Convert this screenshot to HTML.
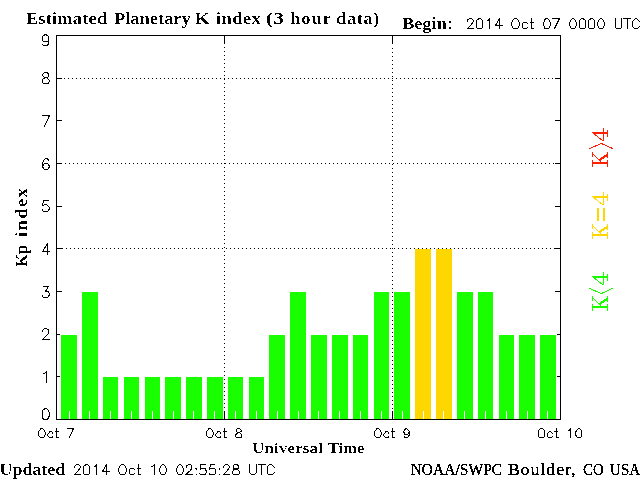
<!DOCTYPE html>
<html><head><meta charset="utf-8"><style>
html,body{margin:0;padding:0;background:#fff;}
body{width:640px;height:480px;overflow:hidden;position:relative;}
svg{position:absolute;left:0;top:0;will-change:transform;}
.serif{font-family:"Liberation Serif",serif;}
</style></head><body>
<svg width="640" height="480" viewBox="0 0 640 480">
<g shape-rendering="crispEdges">
<rect x="61" y="335" width="16" height="84" fill="#1aff00"/>
<rect x="82" y="292" width="16" height="127" fill="#1aff00"/>
<rect x="103" y="377" width="15" height="42" fill="#1aff00"/>
<rect x="124" y="377" width="15" height="42" fill="#1aff00"/>
<rect x="145" y="377" width="15" height="42" fill="#1aff00"/>
<rect x="165" y="377" width="16" height="42" fill="#1aff00"/>
<rect x="186" y="377" width="16" height="42" fill="#1aff00"/>
<rect x="207" y="377" width="16" height="42" fill="#1aff00"/>
<rect x="228" y="377" width="15" height="42" fill="#1aff00"/>
<rect x="249" y="377" width="15" height="42" fill="#1aff00"/>
<rect x="269" y="335" width="16" height="84" fill="#1aff00"/>
<rect x="290" y="292" width="16" height="127" fill="#1aff00"/>
<rect x="311" y="335" width="16" height="84" fill="#1aff00"/>
<rect x="332" y="335" width="16" height="84" fill="#1aff00"/>
<rect x="353" y="335" width="15" height="84" fill="#1aff00"/>
<rect x="374" y="292" width="15" height="127" fill="#1aff00"/>
<rect x="394" y="292" width="16" height="127" fill="#1aff00"/>
<rect x="415" y="249" width="16" height="170" fill="#ffd700"/>
<rect x="436" y="249" width="16" height="170" fill="#ffd700"/>
<rect x="457" y="292" width="16" height="127" fill="#1aff00"/>
<rect x="478" y="292" width="15" height="127" fill="#1aff00"/>
<rect x="499" y="335" width="15" height="84" fill="#1aff00"/>
<rect x="519" y="335" width="16" height="84" fill="#1aff00"/>
<rect x="540" y="335" width="16" height="84" fill="#1aff00"/>
<rect x="69" y="411" width="1" height="8" fill="#fff"/>
<rect x="89" y="411" width="1" height="8" fill="#fff"/>
<rect x="110" y="411" width="1" height="8" fill="#fff"/>
<rect x="131" y="411" width="1" height="8" fill="#fff"/>
<rect x="152" y="411" width="1" height="8" fill="#fff"/>
<rect x="173" y="411" width="1" height="8" fill="#fff"/>
<rect x="193" y="411" width="1" height="8" fill="#fff"/>
<rect x="214" y="411" width="1" height="8" fill="#fff"/>
<rect x="235" y="411" width="1" height="8" fill="#fff"/>
<rect x="256" y="411" width="1" height="8" fill="#fff"/>
<rect x="277" y="411" width="1" height="8" fill="#fff"/>
<rect x="298" y="411" width="1" height="8" fill="#fff"/>
<rect x="318" y="411" width="1" height="8" fill="#fff"/>
<rect x="339" y="411" width="1" height="8" fill="#fff"/>
<rect x="360" y="411" width="1" height="8" fill="#fff"/>
<rect x="381" y="411" width="1" height="8" fill="#fff"/>
<rect x="402" y="411" width="1" height="8" fill="#fff"/>
<rect x="423" y="411" width="1" height="8" fill="#fff"/>
<rect x="443" y="411" width="1" height="8" fill="#fff"/>
<rect x="464" y="411" width="1" height="8" fill="#fff"/>
<rect x="485" y="411" width="1" height="8" fill="#fff"/>
<rect x="506" y="411" width="1" height="8" fill="#fff"/>
<rect x="527" y="411" width="1" height="8" fill="#fff"/>
<rect x="547" y="411" width="1" height="8" fill="#fff"/>
<path d="M64 78h1v1h-1zM68 78h1v1h-1zM72 78h1v1h-1zM76 78h1v1h-1zM80 78h1v1h-1zM84 78h1v1h-1zM88 78h1v1h-1zM92 78h1v1h-1zM96 78h1v1h-1zM100 78h1v1h-1zM104 78h1v1h-1zM108 78h1v1h-1zM112 78h1v1h-1zM116 78h1v1h-1zM120 78h1v1h-1zM124 78h1v1h-1zM128 78h1v1h-1zM132 78h1v1h-1zM136 78h1v1h-1zM140 78h1v1h-1zM144 78h1v1h-1zM148 78h1v1h-1zM152 78h1v1h-1zM156 78h1v1h-1zM160 78h1v1h-1zM164 78h1v1h-1zM168 78h1v1h-1zM172 78h1v1h-1zM176 78h1v1h-1zM180 78h1v1h-1zM184 78h1v1h-1zM188 78h1v1h-1zM192 78h1v1h-1zM196 78h1v1h-1zM200 78h1v1h-1zM204 78h1v1h-1zM208 78h1v1h-1zM212 78h1v1h-1zM216 78h1v1h-1zM220 78h1v1h-1zM224 78h1v1h-1zM228 78h1v1h-1zM232 78h1v1h-1zM236 78h1v1h-1zM240 78h1v1h-1zM244 78h1v1h-1zM248 78h1v1h-1zM252 78h1v1h-1zM256 78h1v1h-1zM260 78h1v1h-1zM264 78h1v1h-1zM268 78h1v1h-1zM272 78h1v1h-1zM276 78h1v1h-1zM280 78h1v1h-1zM284 78h1v1h-1zM288 78h1v1h-1zM292 78h1v1h-1zM296 78h1v1h-1zM300 78h1v1h-1zM304 78h1v1h-1zM308 78h1v1h-1zM312 78h1v1h-1zM316 78h1v1h-1zM320 78h1v1h-1zM324 78h1v1h-1zM328 78h1v1h-1zM332 78h1v1h-1zM336 78h1v1h-1zM340 78h1v1h-1zM344 78h1v1h-1zM348 78h1v1h-1zM352 78h1v1h-1zM356 78h1v1h-1zM360 78h1v1h-1zM364 78h1v1h-1zM368 78h1v1h-1zM372 78h1v1h-1zM376 78h1v1h-1zM380 78h1v1h-1zM384 78h1v1h-1zM388 78h1v1h-1zM392 78h1v1h-1zM396 78h1v1h-1zM400 78h1v1h-1zM404 78h1v1h-1zM408 78h1v1h-1zM412 78h1v1h-1zM416 78h1v1h-1zM420 78h1v1h-1zM424 78h1v1h-1zM428 78h1v1h-1zM432 78h1v1h-1zM436 78h1v1h-1zM440 78h1v1h-1zM444 78h1v1h-1zM448 78h1v1h-1zM452 78h1v1h-1zM456 78h1v1h-1zM460 78h1v1h-1zM464 78h1v1h-1zM468 78h1v1h-1zM472 78h1v1h-1zM476 78h1v1h-1zM480 78h1v1h-1zM484 78h1v1h-1zM488 78h1v1h-1zM492 78h1v1h-1zM496 78h1v1h-1zM500 78h1v1h-1zM504 78h1v1h-1zM508 78h1v1h-1zM512 78h1v1h-1zM516 78h1v1h-1zM520 78h1v1h-1zM524 78h1v1h-1zM528 78h1v1h-1zM532 78h1v1h-1zM536 78h1v1h-1zM540 78h1v1h-1zM544 78h1v1h-1zM548 78h1v1h-1zM552 78h1v1h-1zM65 163h1v1h-1zM69 163h1v1h-1zM73 163h1v1h-1zM77 163h1v1h-1zM81 163h1v1h-1zM85 163h1v1h-1zM89 163h1v1h-1zM93 163h1v1h-1zM97 163h1v1h-1zM101 163h1v1h-1zM105 163h1v1h-1zM109 163h1v1h-1zM113 163h1v1h-1zM117 163h1v1h-1zM121 163h1v1h-1zM125 163h1v1h-1zM129 163h1v1h-1zM133 163h1v1h-1zM137 163h1v1h-1zM141 163h1v1h-1zM145 163h1v1h-1zM149 163h1v1h-1zM153 163h1v1h-1zM157 163h1v1h-1zM161 163h1v1h-1zM165 163h1v1h-1zM169 163h1v1h-1zM173 163h1v1h-1zM177 163h1v1h-1zM181 163h1v1h-1zM185 163h1v1h-1zM189 163h1v1h-1zM193 163h1v1h-1zM197 163h1v1h-1zM201 163h1v1h-1zM205 163h1v1h-1zM209 163h1v1h-1zM213 163h1v1h-1zM217 163h1v1h-1zM221 163h1v1h-1zM225 163h1v1h-1zM229 163h1v1h-1zM233 163h1v1h-1zM237 163h1v1h-1zM241 163h1v1h-1zM245 163h1v1h-1zM249 163h1v1h-1zM253 163h1v1h-1zM257 163h1v1h-1zM261 163h1v1h-1zM265 163h1v1h-1zM269 163h1v1h-1zM273 163h1v1h-1zM277 163h1v1h-1zM281 163h1v1h-1zM285 163h1v1h-1zM289 163h1v1h-1zM293 163h1v1h-1zM297 163h1v1h-1zM301 163h1v1h-1zM305 163h1v1h-1zM309 163h1v1h-1zM313 163h1v1h-1zM317 163h1v1h-1zM321 163h1v1h-1zM325 163h1v1h-1zM329 163h1v1h-1zM333 163h1v1h-1zM337 163h1v1h-1zM341 163h1v1h-1zM345 163h1v1h-1zM349 163h1v1h-1zM353 163h1v1h-1zM357 163h1v1h-1zM361 163h1v1h-1zM365 163h1v1h-1zM369 163h1v1h-1zM373 163h1v1h-1zM377 163h1v1h-1zM381 163h1v1h-1zM385 163h1v1h-1zM389 163h1v1h-1zM393 163h1v1h-1zM397 163h1v1h-1zM401 163h1v1h-1zM405 163h1v1h-1zM409 163h1v1h-1zM413 163h1v1h-1zM417 163h1v1h-1zM421 163h1v1h-1zM425 163h1v1h-1zM429 163h1v1h-1zM433 163h1v1h-1zM437 163h1v1h-1zM441 163h1v1h-1zM445 163h1v1h-1zM449 163h1v1h-1zM453 163h1v1h-1zM457 163h1v1h-1zM461 163h1v1h-1zM465 163h1v1h-1zM469 163h1v1h-1zM473 163h1v1h-1zM477 163h1v1h-1zM481 163h1v1h-1zM485 163h1v1h-1zM489 163h1v1h-1zM493 163h1v1h-1zM497 163h1v1h-1zM501 163h1v1h-1zM505 163h1v1h-1zM509 163h1v1h-1zM513 163h1v1h-1zM517 163h1v1h-1zM521 163h1v1h-1zM525 163h1v1h-1zM529 163h1v1h-1zM533 163h1v1h-1zM537 163h1v1h-1zM541 163h1v1h-1zM545 163h1v1h-1zM549 163h1v1h-1zM553 163h1v1h-1zM62 248h1v1h-1zM66 248h1v1h-1zM70 248h1v1h-1zM74 248h1v1h-1zM78 248h1v1h-1zM82 248h1v1h-1zM86 248h1v1h-1zM90 248h1v1h-1zM94 248h1v1h-1zM98 248h1v1h-1zM102 248h1v1h-1zM106 248h1v1h-1zM110 248h1v1h-1zM114 248h1v1h-1zM118 248h1v1h-1zM122 248h1v1h-1zM126 248h1v1h-1zM130 248h1v1h-1zM134 248h1v1h-1zM138 248h1v1h-1zM142 248h1v1h-1zM146 248h1v1h-1zM150 248h1v1h-1zM154 248h1v1h-1zM158 248h1v1h-1zM162 248h1v1h-1zM166 248h1v1h-1zM170 248h1v1h-1zM174 248h1v1h-1zM178 248h1v1h-1zM182 248h1v1h-1zM186 248h1v1h-1zM190 248h1v1h-1zM194 248h1v1h-1zM198 248h1v1h-1zM202 248h1v1h-1zM206 248h1v1h-1zM210 248h1v1h-1zM214 248h1v1h-1zM218 248h1v1h-1zM222 248h1v1h-1zM226 248h1v1h-1zM230 248h1v1h-1zM234 248h1v1h-1zM238 248h1v1h-1zM242 248h1v1h-1zM246 248h1v1h-1zM250 248h1v1h-1zM254 248h1v1h-1zM258 248h1v1h-1zM262 248h1v1h-1zM266 248h1v1h-1zM270 248h1v1h-1zM274 248h1v1h-1zM278 248h1v1h-1zM282 248h1v1h-1zM286 248h1v1h-1zM290 248h1v1h-1zM294 248h1v1h-1zM298 248h1v1h-1zM302 248h1v1h-1zM306 248h1v1h-1zM310 248h1v1h-1zM314 248h1v1h-1zM318 248h1v1h-1zM322 248h1v1h-1zM326 248h1v1h-1zM330 248h1v1h-1zM334 248h1v1h-1zM338 248h1v1h-1zM342 248h1v1h-1zM346 248h1v1h-1zM350 248h1v1h-1zM354 248h1v1h-1zM358 248h1v1h-1zM362 248h1v1h-1zM366 248h1v1h-1zM370 248h1v1h-1zM374 248h1v1h-1zM378 248h1v1h-1zM382 248h1v1h-1zM386 248h1v1h-1zM390 248h1v1h-1zM394 248h1v1h-1zM398 248h1v1h-1zM402 248h1v1h-1zM406 248h1v1h-1zM410 248h1v1h-1zM414 248h1v1h-1zM418 248h1v1h-1zM422 248h1v1h-1zM426 248h1v1h-1zM430 248h1v1h-1zM434 248h1v1h-1zM438 248h1v1h-1zM442 248h1v1h-1zM446 248h1v1h-1zM450 248h1v1h-1zM454 248h1v1h-1zM458 248h1v1h-1zM462 248h1v1h-1zM466 248h1v1h-1zM470 248h1v1h-1zM474 248h1v1h-1zM478 248h1v1h-1zM482 248h1v1h-1zM486 248h1v1h-1zM490 248h1v1h-1zM494 248h1v1h-1zM498 248h1v1h-1zM502 248h1v1h-1zM506 248h1v1h-1zM510 248h1v1h-1zM514 248h1v1h-1zM518 248h1v1h-1zM522 248h1v1h-1zM526 248h1v1h-1zM530 248h1v1h-1zM534 248h1v1h-1zM538 248h1v1h-1zM542 248h1v1h-1zM546 248h1v1h-1zM550 248h1v1h-1zM554 248h1v1h-1zM224 47h1v1h-1zM224 51h1v1h-1zM224 55h1v1h-1zM224 59h1v1h-1zM224 63h1v1h-1zM224 67h1v1h-1zM224 71h1v1h-1zM224 75h1v1h-1zM224 79h1v1h-1zM224 83h1v1h-1zM224 87h1v1h-1zM224 91h1v1h-1zM224 95h1v1h-1zM224 99h1v1h-1zM224 103h1v1h-1zM224 107h1v1h-1zM224 111h1v1h-1zM224 115h1v1h-1zM224 119h1v1h-1zM224 123h1v1h-1zM224 127h1v1h-1zM224 131h1v1h-1zM224 135h1v1h-1zM224 139h1v1h-1zM224 143h1v1h-1zM224 147h1v1h-1zM224 151h1v1h-1zM224 155h1v1h-1zM224 159h1v1h-1zM224 163h1v1h-1zM224 167h1v1h-1zM224 171h1v1h-1zM224 175h1v1h-1zM224 179h1v1h-1zM224 183h1v1h-1zM224 187h1v1h-1zM224 191h1v1h-1zM224 195h1v1h-1zM224 199h1v1h-1zM224 203h1v1h-1zM224 207h1v1h-1zM224 211h1v1h-1zM224 215h1v1h-1zM224 219h1v1h-1zM224 223h1v1h-1zM224 227h1v1h-1zM224 231h1v1h-1zM224 235h1v1h-1zM224 239h1v1h-1zM224 243h1v1h-1zM224 247h1v1h-1zM224 251h1v1h-1zM224 255h1v1h-1zM224 259h1v1h-1zM224 263h1v1h-1zM224 267h1v1h-1zM224 271h1v1h-1zM224 275h1v1h-1zM224 279h1v1h-1zM224 283h1v1h-1zM224 287h1v1h-1zM224 291h1v1h-1zM224 295h1v1h-1zM224 299h1v1h-1zM224 303h1v1h-1zM224 307h1v1h-1zM224 311h1v1h-1zM224 315h1v1h-1zM224 319h1v1h-1zM224 323h1v1h-1zM224 327h1v1h-1zM224 331h1v1h-1zM224 335h1v1h-1zM224 339h1v1h-1zM224 343h1v1h-1zM224 347h1v1h-1zM224 351h1v1h-1zM224 355h1v1h-1zM224 359h1v1h-1zM224 363h1v1h-1zM224 367h1v1h-1zM224 371h1v1h-1zM224 375h1v1h-1zM224 379h1v1h-1zM224 383h1v1h-1zM224 387h1v1h-1zM224 391h1v1h-1zM224 395h1v1h-1zM224 399h1v1h-1zM224 403h1v1h-1zM224 407h1v1h-1zM392 48h1v1h-1zM392 52h1v1h-1zM392 56h1v1h-1zM392 60h1v1h-1zM392 64h1v1h-1zM392 68h1v1h-1zM392 72h1v1h-1zM392 76h1v1h-1zM392 80h1v1h-1zM392 84h1v1h-1zM392 88h1v1h-1zM392 92h1v1h-1zM392 96h1v1h-1zM392 100h1v1h-1zM392 104h1v1h-1zM392 108h1v1h-1zM392 112h1v1h-1zM392 116h1v1h-1zM392 120h1v1h-1zM392 124h1v1h-1zM392 128h1v1h-1zM392 132h1v1h-1zM392 136h1v1h-1zM392 140h1v1h-1zM392 144h1v1h-1zM392 148h1v1h-1zM392 152h1v1h-1zM392 156h1v1h-1zM392 160h1v1h-1zM392 164h1v1h-1zM392 168h1v1h-1zM392 172h1v1h-1zM392 176h1v1h-1zM392 180h1v1h-1zM392 184h1v1h-1zM392 188h1v1h-1zM392 192h1v1h-1zM392 196h1v1h-1zM392 200h1v1h-1zM392 204h1v1h-1zM392 208h1v1h-1zM392 212h1v1h-1zM392 216h1v1h-1zM392 220h1v1h-1zM392 224h1v1h-1zM392 228h1v1h-1zM392 232h1v1h-1zM392 236h1v1h-1zM392 240h1v1h-1zM392 244h1v1h-1zM392 248h1v1h-1zM392 252h1v1h-1zM392 256h1v1h-1zM392 260h1v1h-1zM392 264h1v1h-1zM392 268h1v1h-1zM392 272h1v1h-1zM392 276h1v1h-1zM392 280h1v1h-1zM392 284h1v1h-1zM392 288h1v1h-1zM392 292h1v1h-1zM392 296h1v1h-1zM392 300h1v1h-1zM392 304h1v1h-1zM392 308h1v1h-1zM392 312h1v1h-1zM392 316h1v1h-1zM392 320h1v1h-1zM392 324h1v1h-1zM392 328h1v1h-1zM392 332h1v1h-1zM392 336h1v1h-1zM392 340h1v1h-1zM392 344h1v1h-1zM392 348h1v1h-1zM392 352h1v1h-1zM392 356h1v1h-1zM392 360h1v1h-1zM392 364h1v1h-1zM392 368h1v1h-1zM392 372h1v1h-1zM392 376h1v1h-1zM392 380h1v1h-1zM392 384h1v1h-1zM392 388h1v1h-1zM392 392h1v1h-1zM392 396h1v1h-1zM392 400h1v1h-1zM392 404h1v1h-1zM392 408h1v1h-1z" fill="#000"/>
<rect x="56" y="35" width="505" height="1" fill="#000"/>
<rect x="56" y="419" width="505" height="1" fill="#000"/>
<rect x="56" y="35" width="1" height="385" fill="#000"/>
<rect x="560" y="35" width="1" height="385" fill="#000"/>
<rect x="57" y="78" width="5" height="1" fill="#000"/>
<rect x="555" y="78" width="5" height="1" fill="#000"/>
<rect x="57" y="120" width="5" height="1" fill="#000"/>
<rect x="555" y="120" width="5" height="1" fill="#000"/>
<rect x="57" y="163" width="5" height="1" fill="#000"/>
<rect x="555" y="163" width="5" height="1" fill="#000"/>
<rect x="57" y="206" width="5" height="1" fill="#000"/>
<rect x="555" y="206" width="5" height="1" fill="#000"/>
<rect x="57" y="248" width="5" height="1" fill="#000"/>
<rect x="555" y="248" width="5" height="1" fill="#000"/>
<rect x="57" y="291" width="5" height="1" fill="#000"/>
<rect x="555" y="291" width="5" height="1" fill="#000"/>
<rect x="57" y="334" width="3" height="1" fill="#000"/>
<rect x="557" y="334" width="3" height="1" fill="#000"/>
<rect x="57" y="376" width="3" height="1" fill="#000"/>
<rect x="557" y="376" width="3" height="1" fill="#000"/>
<rect x="224" y="36" width="1" height="8" fill="#000"/>
<rect x="224" y="411" width="1" height="8" fill="#000"/>
<rect x="392" y="36" width="1" height="8" fill="#000"/>
<rect x="392" y="411" width="1" height="8" fill="#000"/>
</g>
<path d="M467.5 21.5L467.5 20.5L467.5 19.5L468.5 19.5L469.5 18.5L471.5 18.5L472.5 19.5L472.5 19.5L473.5 20.5L473.5 21.5L472.5 22.5L471.5 24.5L467.5 28.5L473.5 28.5M479.5 18.5L477.5 19.5L476.5 20.5L476.5 23.5L476.5 24.5L476.5 27.5L477.5 28.5L479.5 28.5L480.5 28.5L481.5 28.5L482.5 27.5L482.5 24.5L482.5 23.5L482.5 20.5L481.5 19.5L480.5 18.5L479.5 18.5M487.5 20.5L488.5 20.5L489.5 18.5L489.5 28.5M499.5 18.5L495.5 25.5L502.5 25.5M499.5 18.5L499.5 28.5M514.5 18.5L513.5 19.5L512.5 20.5L512.5 21.5L511.5 22.5L511.5 25.5L512.5 26.5L512.5 27.5L513.5 28.5L514.5 28.5L516.5 28.5L517.5 28.5L518.5 27.5L518.5 26.5L519.5 25.5L519.5 22.5L518.5 21.5L518.5 20.5L517.5 19.5L516.5 18.5L514.5 18.5M527.5 23.5L526.5 22.5L525.5 22.5L524.5 22.5L523.5 22.5L522.5 23.5L522.5 25.5L522.5 26.5L522.5 27.5L523.5 28.5L524.5 28.5L525.5 28.5L526.5 28.5L527.5 27.5M531.5 18.5L531.5 27.5L531.5 28.5L532.5 28.5L533.5 28.5M530.5 22.5L533.5 22.5M546.5 18.5L544.5 19.5L544.5 20.5L543.5 23.5L543.5 24.5L544.5 27.5L544.5 28.5L546.5 28.5L547.5 28.5L548.5 28.5L549.5 27.5L550.5 24.5L550.5 23.5L549.5 20.5L548.5 19.5L547.5 18.5L546.5 18.5M559.5 18.5L554.5 28.5M552.5 18.5L559.5 18.5M572.5 18.5L571.5 19.5L570.5 20.5L569.5 23.5L569.5 24.5L570.5 27.5L571.5 28.5L572.5 28.5L573.5 28.5L574.5 28.5L575.5 27.5L576.5 24.5L576.5 23.5L575.5 20.5L574.5 19.5L573.5 18.5L572.5 18.5M581.5 18.5L580.5 19.5L579.5 20.5L579.5 23.5L579.5 24.5L579.5 27.5L580.5 28.5L581.5 28.5L582.5 28.5L584.5 28.5L585.5 27.5L585.5 24.5L585.5 23.5L585.5 20.5L584.5 19.5L582.5 18.5L581.5 18.5M591.5 18.5L589.5 19.5L588.5 20.5L588.5 23.5L588.5 24.5L588.5 27.5L589.5 28.5L591.5 28.5L592.5 28.5L593.5 28.5L594.5 27.5L594.5 24.5L594.5 23.5L594.5 20.5L593.5 19.5L592.5 18.5L591.5 18.5M600.5 18.5L599.5 19.5L598.5 20.5L597.5 23.5L597.5 24.5L598.5 27.5L599.5 28.5L600.5 28.5L601.5 28.5L602.5 28.5L603.5 27.5L604.5 24.5L604.5 23.5L603.5 20.5L602.5 19.5L601.5 18.5L600.5 18.5M615.5 18.5L615.5 26.5L615.5 27.5L616.5 28.5L617.5 28.5L618.5 28.5L620.5 28.5L621.5 27.5L621.5 26.5L621.5 18.5M627.5 18.5L627.5 28.5M623.5 18.5L630.5 18.5M639.5 21.5L638.5 20.5L637.5 19.5L636.5 18.5L635.5 18.5L634.5 19.5L633.5 20.5L632.5 21.5L632.5 22.5L632.5 25.5L632.5 26.5L633.5 27.5L634.5 28.5L635.5 28.5L636.5 28.5L637.5 28.5L638.5 27.5L639.5 26.5M74.5 467.5L74.5 466.5L75.5 465.5L75.5 465.5L76.5 464.5L78.5 464.5L79.5 465.5L79.5 465.5L80.5 466.5L80.5 467.5L79.5 468.5L78.5 470.5L74.5 474.5L80.5 474.5M86.5 464.5L84.5 465.5L83.5 466.5L83.5 469.5L83.5 470.5L83.5 473.5L84.5 474.5L86.5 474.5L87.5 474.5L88.5 474.5L89.5 473.5L89.5 470.5L89.5 469.5L89.5 466.5L88.5 465.5L87.5 464.5L86.5 464.5M94.5 466.5L95.5 466.5L96.5 464.5L96.5 474.5M106.5 464.5L102.5 471.5L109.5 471.5M106.5 464.5L106.5 474.5M121.5 464.5L120.5 465.5L119.5 466.5L119.5 467.5L118.5 468.5L118.5 471.5L119.5 472.5L119.5 473.5L120.5 474.5L121.5 474.5L123.5 474.5L124.5 474.5L125.5 473.5L125.5 472.5L126.5 471.5L126.5 468.5L125.5 467.5L125.5 466.5L124.5 465.5L123.5 464.5L121.5 464.5M134.5 469.5L133.5 468.5L132.5 468.5L131.5 468.5L130.5 468.5L129.5 469.5L129.5 471.5L129.5 472.5L129.5 473.5L130.5 474.5L131.5 474.5L132.5 474.5L133.5 474.5L134.5 473.5M138.5 464.5L138.5 473.5L138.5 474.5L139.5 474.5L140.5 474.5M137.5 468.5L140.5 468.5M151.5 466.5L152.5 466.5L154.5 464.5L154.5 474.5M162.5 464.5L161.5 465.5L160.5 466.5L159.5 469.5L159.5 470.5L160.5 473.5L161.5 474.5L162.5 474.5L163.5 474.5L164.5 474.5L165.5 473.5L166.5 470.5L166.5 469.5L165.5 466.5L164.5 465.5L163.5 464.5L162.5 464.5M179.5 464.5L178.5 465.5L177.5 466.5L176.5 469.5L176.5 470.5L177.5 473.5L178.5 474.5L179.5 474.5L180.5 474.5L181.5 474.5L182.5 473.5L183.5 470.5L183.5 469.5L182.5 466.5L181.5 465.5L180.5 464.5L179.5 464.5M186.5 467.5L186.5 466.5L186.5 465.5L187.5 465.5L188.5 464.5L190.5 464.5L191.5 465.5L191.5 465.5L191.5 466.5L191.5 467.5L191.5 468.5L190.5 470.5L185.5 474.5L192.5 474.5M196.5 468.5L195.5 468.5L196.5 469.5L196.5 468.5L196.5 468.5M196.5 474.5L195.5 474.5L196.5 474.5L196.5 474.5L196.5 474.5M205.5 464.5L200.5 464.5L200.5 469.5L200.5 468.5L202.5 468.5L203.5 468.5L205.5 468.5L205.5 469.5L206.5 471.5L206.5 472.5L205.5 473.5L205.5 474.5L203.5 474.5L202.5 474.5L200.5 474.5L200.5 474.5L199.5 473.5M214.5 464.5L210.5 464.5L209.5 469.5L210.5 468.5L211.5 468.5L212.5 468.5L214.5 468.5L215.5 469.5L215.5 471.5L215.5 472.5L215.5 473.5L214.5 474.5L212.5 474.5L211.5 474.5L210.5 474.5L209.5 474.5L209.5 473.5M219.5 468.5L219.5 468.5L219.5 469.5L219.5 468.5L219.5 468.5M219.5 474.5L219.5 474.5L219.5 474.5L219.5 474.5L219.5 474.5M223.5 467.5L223.5 466.5L224.5 465.5L224.5 465.5L225.5 464.5L227.5 464.5L228.5 465.5L228.5 465.5L229.5 466.5L229.5 467.5L228.5 468.5L227.5 470.5L223.5 474.5L229.5 474.5M234.5 464.5L233.5 465.5L233.5 466.5L233.5 467.5L233.5 468.5L234.5 468.5L236.5 469.5L237.5 469.5L238.5 470.5L239.5 471.5L239.5 473.5L238.5 474.5L238.5 474.5L236.5 474.5L234.5 474.5L233.5 474.5L233.5 474.5L232.5 473.5L232.5 471.5L233.5 470.5L233.5 469.5L235.5 469.5L237.5 468.5L238.5 468.5L238.5 467.5L238.5 466.5L238.5 465.5L236.5 464.5L234.5 464.5M249.5 464.5L249.5 472.5L250.5 473.5L251.5 474.5L252.5 474.5L253.5 474.5L254.5 474.5L255.5 473.5L256.5 472.5L256.5 464.5M261.5 464.5L261.5 474.5M258.5 464.5L265.5 464.5M274.5 467.5L273.5 466.5L272.5 465.5L271.5 464.5L269.5 464.5L268.5 465.5L267.5 466.5L267.5 467.5L267.5 468.5L267.5 471.5L267.5 472.5L267.5 473.5L268.5 474.5L269.5 474.5L271.5 474.5L272.5 474.5L273.5 473.5L274.5 472.5M40.5 428.5L40.5 429.5L39.5 430.5L38.5 431.5L38.5 432.5L38.5 434.5L38.5 435.5L39.5 436.5L40.5 437.5L40.5 437.5L42.5 437.5L43.5 437.5L44.5 436.5L44.5 435.5L45.5 434.5L45.5 432.5L44.5 431.5L44.5 430.5L43.5 429.5L42.5 428.5L40.5 428.5M52.5 433.5L52.5 432.5L51.5 431.5L49.5 431.5L49.5 432.5L48.5 433.5L47.5 434.5L47.5 435.5L48.5 436.5L49.5 437.5L49.5 437.5L51.5 437.5L52.5 437.5L52.5 436.5M56.5 428.5L56.5 436.5L56.5 437.5L57.5 437.5L58.5 437.5M55.5 431.5L58.5 431.5M73.5 428.5L69.5 437.5M67.5 428.5L73.5 428.5M208.5 428.5L208.5 429.5L207.5 430.5L206.5 431.5L206.5 432.5L206.5 434.5L206.5 435.5L207.5 436.5L208.5 437.5L208.5 437.5L210.5 437.5L211.5 437.5L212.5 436.5L212.5 435.5L213.5 434.5L213.5 432.5L212.5 431.5L212.5 430.5L211.5 429.5L210.5 428.5L208.5 428.5M220.5 433.5L220.5 432.5L219.5 431.5L217.5 431.5L217.5 432.5L216.5 433.5L215.5 434.5L215.5 435.5L216.5 436.5L217.5 437.5L217.5 437.5L219.5 437.5L220.5 437.5L220.5 436.5M224.5 428.5L224.5 436.5L224.5 437.5L225.5 437.5L226.5 437.5M223.5 431.5L226.5 431.5M237.5 428.5L236.5 429.5L236.5 430.5L236.5 431.5L236.5 431.5L237.5 432.5L239.5 432.5L240.5 433.5L241.5 434.5L241.5 434.5L241.5 436.5L241.5 437.5L240.5 437.5L239.5 437.5L237.5 437.5L236.5 437.5L236.5 437.5L235.5 436.5L235.5 434.5L236.5 434.5L236.5 433.5L238.5 432.5L239.5 432.5L240.5 431.5L241.5 431.5L241.5 430.5L240.5 429.5L239.5 428.5L237.5 428.5M376.5 428.5L376.5 429.5L375.5 430.5L374.5 431.5L374.5 432.5L374.5 434.5L374.5 435.5L375.5 436.5L376.5 437.5L376.5 437.5L378.5 437.5L379.5 437.5L380.5 436.5L380.5 435.5L381.5 434.5L381.5 432.5L380.5 431.5L380.5 430.5L379.5 429.5L378.5 428.5L376.5 428.5M388.5 433.5L388.5 432.5L387.5 431.5L385.5 431.5L385.5 432.5L384.5 433.5L383.5 434.5L383.5 435.5L384.5 436.5L385.5 437.5L385.5 437.5L387.5 437.5L388.5 437.5L388.5 436.5M392.5 428.5L392.5 436.5L392.5 437.5L393.5 437.5L394.5 437.5M391.5 431.5L394.5 431.5M409.5 431.5L408.5 433.5L407.5 434.5L406.5 434.5L406.5 434.5L404.5 434.5L404.5 433.5L403.5 431.5L403.5 431.5L404.5 430.5L404.5 429.5L406.5 428.5L406.5 428.5L407.5 429.5L408.5 430.5L409.5 431.5L409.5 434.5L408.5 436.5L407.5 437.5L406.5 437.5L405.5 437.5L404.5 437.5L404.5 436.5M540.5 428.5L539.5 429.5L538.5 430.5L538.5 431.5L538.5 432.5L538.5 434.5L538.5 435.5L538.5 436.5L539.5 437.5L540.5 437.5L542.5 437.5L543.5 437.5L544.5 436.5L544.5 435.5L544.5 434.5L544.5 432.5L544.5 431.5L544.5 430.5L543.5 429.5L542.5 428.5L540.5 428.5M552.5 433.5L551.5 432.5L550.5 431.5L549.5 431.5L548.5 432.5L547.5 433.5L547.5 434.5L547.5 435.5L547.5 436.5L548.5 437.5L549.5 437.5L550.5 437.5L551.5 437.5L552.5 436.5M556.5 428.5L556.5 436.5L556.5 437.5L557.5 437.5L558.5 437.5M554.5 431.5L557.5 431.5M568.5 430.5L569.5 430.5L570.5 428.5L570.5 437.5M578.5 428.5L577.5 429.5L576.5 430.5L575.5 432.5L575.5 434.5L576.5 436.5L577.5 437.5L578.5 437.5L579.5 437.5L580.5 437.5L581.5 436.5L581.5 434.5L581.5 432.5L581.5 430.5L580.5 429.5L579.5 428.5L578.5 428.5M48.5 38.5L48.5 40.5L47.5 41.5L45.5 41.5L45.5 41.5L43.5 41.5L42.5 40.5L42.5 38.5L42.5 38.5L42.5 36.5L43.5 35.5L45.5 34.5L45.5 34.5L47.5 35.5L48.5 36.5L48.5 38.5L48.5 41.5L48.5 43.5L47.5 45.5L45.5 45.5L44.5 45.5L43.5 45.5L42.5 44.5M44.5 72.5L43.5 73.5L42.5 74.5L42.5 75.5L43.5 76.5L44.5 77.5L46.5 77.5L47.5 78.5L48.5 79.5L49.5 80.5L49.5 81.5L48.5 82.5L48.5 83.5L46.5 83.5L44.5 83.5L43.5 83.5L42.5 82.5L42.5 81.5L42.5 80.5L42.5 79.5L43.5 78.5L45.5 77.5L47.5 77.5L48.5 76.5L48.5 75.5L48.5 74.5L48.5 73.5L46.5 72.5L44.5 72.5M49.5 115.5L44.5 126.5M42.5 115.5L49.5 115.5M48.5 160.5L48.5 159.5L46.5 158.5L45.5 158.5L44.5 159.5L43.5 160.5L42.5 163.5L42.5 166.5L43.5 168.5L44.5 169.5L45.5 169.5L46.5 169.5L47.5 169.5L48.5 168.5L49.5 166.5L49.5 166.5L48.5 164.5L47.5 163.5L46.5 163.5L45.5 163.5L44.5 163.5L43.5 164.5L42.5 166.5M48.5 200.5L43.5 200.5L42.5 205.5L43.5 205.5L44.5 204.5L46.5 204.5L47.5 205.5L48.5 206.5L49.5 207.5L49.5 208.5L48.5 210.5L47.5 211.5L46.5 211.5L44.5 211.5L43.5 211.5L42.5 210.5L42.5 209.5M47.5 243.5L42.5 251.5L49.5 251.5M47.5 243.5L47.5 254.5M43.5 286.5L48.5 286.5L45.5 291.5L47.5 291.5L48.5 291.5L48.5 292.5L49.5 293.5L49.5 294.5L48.5 296.5L47.5 297.5L46.5 297.5L44.5 297.5L43.5 297.5L42.5 296.5L42.5 295.5M42.5 331.5L42.5 330.5L43.5 329.5L43.5 329.5L44.5 328.5L46.5 328.5L47.5 329.5L48.5 329.5L48.5 330.5L48.5 332.5L48.5 333.5L47.5 334.5L42.5 339.5L49.5 339.5M43.5 373.5L44.5 373.5L46.5 371.5L46.5 382.5M45.5 408.5L43.5 409.5L42.5 410.5L42.5 413.5L42.5 415.5L42.5 417.5L43.5 419.5L45.5 419.5L46.5 419.5L47.5 419.5L48.5 417.5L49.5 415.5L49.5 413.5L48.5 410.5L47.5 409.5L46.5 408.5L45.5 408.5" fill="none" stroke="#000" stroke-width="1" stroke-linecap="square" stroke-linejoin="miter" shape-rendering="crispEdges"/>
<filter id="crispB" x="-5%" y="-20%" width="110%" height="140%" color-interpolation-filters="sRGB"><feComponentTransfer><feFuncA type="discrete" tableValues="0 0 0 1 1"/></feComponentTransfer></filter><filter id="crispR" x="-5%" y="-20%" width="110%" height="140%" color-interpolation-filters="sRGB"><feComponentTransfer><feFuncA type="discrete" tableValues="0 0 0 1 1 1 1 1 1 1"/></feComponentTransfer></filter>
<g font-family="Liberation Serif" fill="#000" filter="url(#crispB)">
<text transform="translate(25.88,23.6) scale(1.1200,1)" font-size="16.5" textLength="72.59" lengthAdjust="spacing" font-weight="bold">Estimated</text>
<text transform="translate(113.88,23.6) scale(1.1194,1)" font-size="16.5" textLength="68.73" lengthAdjust="spacing" font-weight="bold">Planetary</text>
<text transform="translate(194.51,23.6) scale(1.1909,1)" font-size="16.5" textLength="12.84" lengthAdjust="spacing" font-weight="bold">K</text>
<text transform="translate(215.88,23.6) scale(1.1200,1)" font-size="16.5" textLength="40.25" lengthAdjust="spacing" font-weight="bold">index</text>
<text transform="translate(265.87,23.6) scale(1.3333,1)" font-size="16.5" textLength="13.75" lengthAdjust="spacing" font-weight="bold">(3</text>
<text transform="translate(290.18,23.6) scale(1.1200,1)" font-size="16.5" textLength="36.36" lengthAdjust="spacing" font-weight="bold">hour</text>
<text transform="translate(336.08,23.6) scale(1.1200,1)" font-size="16.5" textLength="38.63" lengthAdjust="spacing" font-weight="bold">data)</text>
<text transform="translate(401.88,28.6) scale(1.1163,1)" font-size="16.5" textLength="45.84" lengthAdjust="spacing" font-weight="bold">Begin:</text>
<text transform="translate(-0.47,474.6) scale(1.0862,1)" font-size="16.5" textLength="60.52" lengthAdjust="spacing" font-weight="bold">Updated</text>
<text transform="translate(252.26,452.6) scale(1.1200,1)" font-size="15" textLength="63.00" lengthAdjust="spacing" font-weight="bold">Universal</text>
<text transform="translate(327.90,452.6) scale(1.1000,1)" font-size="15" textLength="33.06" lengthAdjust="spacing" font-weight="bold">Time</text>
<text transform="translate(26.6,265.7) rotate(-90) translate(-0.98,0) scale(0.9850,1)" font-size="16.5" textLength="22.02" lengthAdjust="spacing" font-weight="bold">Kp</text>
<text transform="translate(26.6,265.7) rotate(-90) translate(28.58,0) scale(1.1200,1)" font-size="16.5" textLength="43.69" lengthAdjust="spacing" font-weight="bold">index</text>
</g>
<g font-family="Liberation Serif" fill="#000" filter="url(#crispR)">
<text transform="translate(410.66,474.8) scale(0.9417,1)" font-size="16.5" textLength="97.19" lengthAdjust="spacing">NOAA/SWPC</text>
<text transform="translate(507.65,474.8) scale(1.1000,1)" font-size="16.5" textLength="62.00" lengthAdjust="spacing">Boulder,</text>
<text transform="translate(583.10,474.8) scale(0.9048,1)" font-size="16.5" textLength="22.92" lengthAdjust="spacing">CO</text>
<text transform="translate(610.09,474.8) scale(0.9062,1)" font-size="16.5" textLength="33.02" lengthAdjust="spacing">USA</text>
</g>
<g fill="#ff2000" shape-rendering="crispEdges"><rect x="592" y="132" width="16" height="1"/><rect x="594" y="133" width="14" height="1"/><rect x="603" y="128" width="1" height="13"/><rect x="607" y="130" width="1" height="7"/><rect x="592" y="162" width="16" height="2"/><rect x="592" y="160" width="1" height="7"/><rect x="607" y="160" width="1" height="7"/><rect x="592" y="152" width="1" height="5"/><rect x="607" y="152" width="1" height="6"/><path d="M593.5 133.5L602.5 140.5M593.5 154.5L600.5 161.5M589.5 148.5L601.5 143.5L612.5 148.5" fill="none" stroke="#ff2000" stroke-width="1" stroke-linecap="square"/><path d="M599.5 160L607 155" fill="none" stroke="#ff2000" stroke-width="2"/></g>
<g fill="#ffd700" shape-rendering="crispEdges"><rect x="592" y="196" width="16" height="1"/><rect x="594" y="197" width="14" height="1"/><rect x="603" y="192" width="1" height="13"/><rect x="607" y="194" width="1" height="7"/><rect x="592" y="234" width="16" height="2"/><rect x="592" y="232" width="1" height="7"/><rect x="607" y="232" width="1" height="7"/><rect x="592" y="224" width="1" height="5"/><rect x="607" y="224" width="1" height="6"/><path d="M593.5 197.5L602.5 204.5M593.5 226.5L600.5 233.5" fill="none" stroke="#ffd700" stroke-width="1" stroke-linecap="square"/><path d="M599.5 232L607 227" fill="none" stroke="#ffd700" stroke-width="2"/></g><g fill="#ffd700" shape-rendering="crispEdges"><rect x="597" y="208" width="2" height="13"/><rect x="603" y="208" width="2" height="13"/></g>
<g fill="#1aff00" shape-rendering="crispEdges"><rect x="592" y="276" width="16" height="1"/><rect x="594" y="277" width="14" height="1"/><rect x="603" y="272" width="1" height="13"/><rect x="607" y="274" width="1" height="7"/><rect x="592" y="306" width="16" height="2"/><rect x="592" y="304" width="1" height="7"/><rect x="607" y="304" width="1" height="7"/><rect x="592" y="296" width="1" height="5"/><rect x="607" y="296" width="1" height="6"/><path d="M593.5 277.5L602.5 284.5M593.5 298.5L600.5 305.5M589.5 288.5L601.5 293.5L612.5 288.5" fill="none" stroke="#1aff00" stroke-width="1" stroke-linecap="square"/><path d="M599.5 304L607 299" fill="none" stroke="#1aff00" stroke-width="2"/></g>
</svg>
</body></html>
